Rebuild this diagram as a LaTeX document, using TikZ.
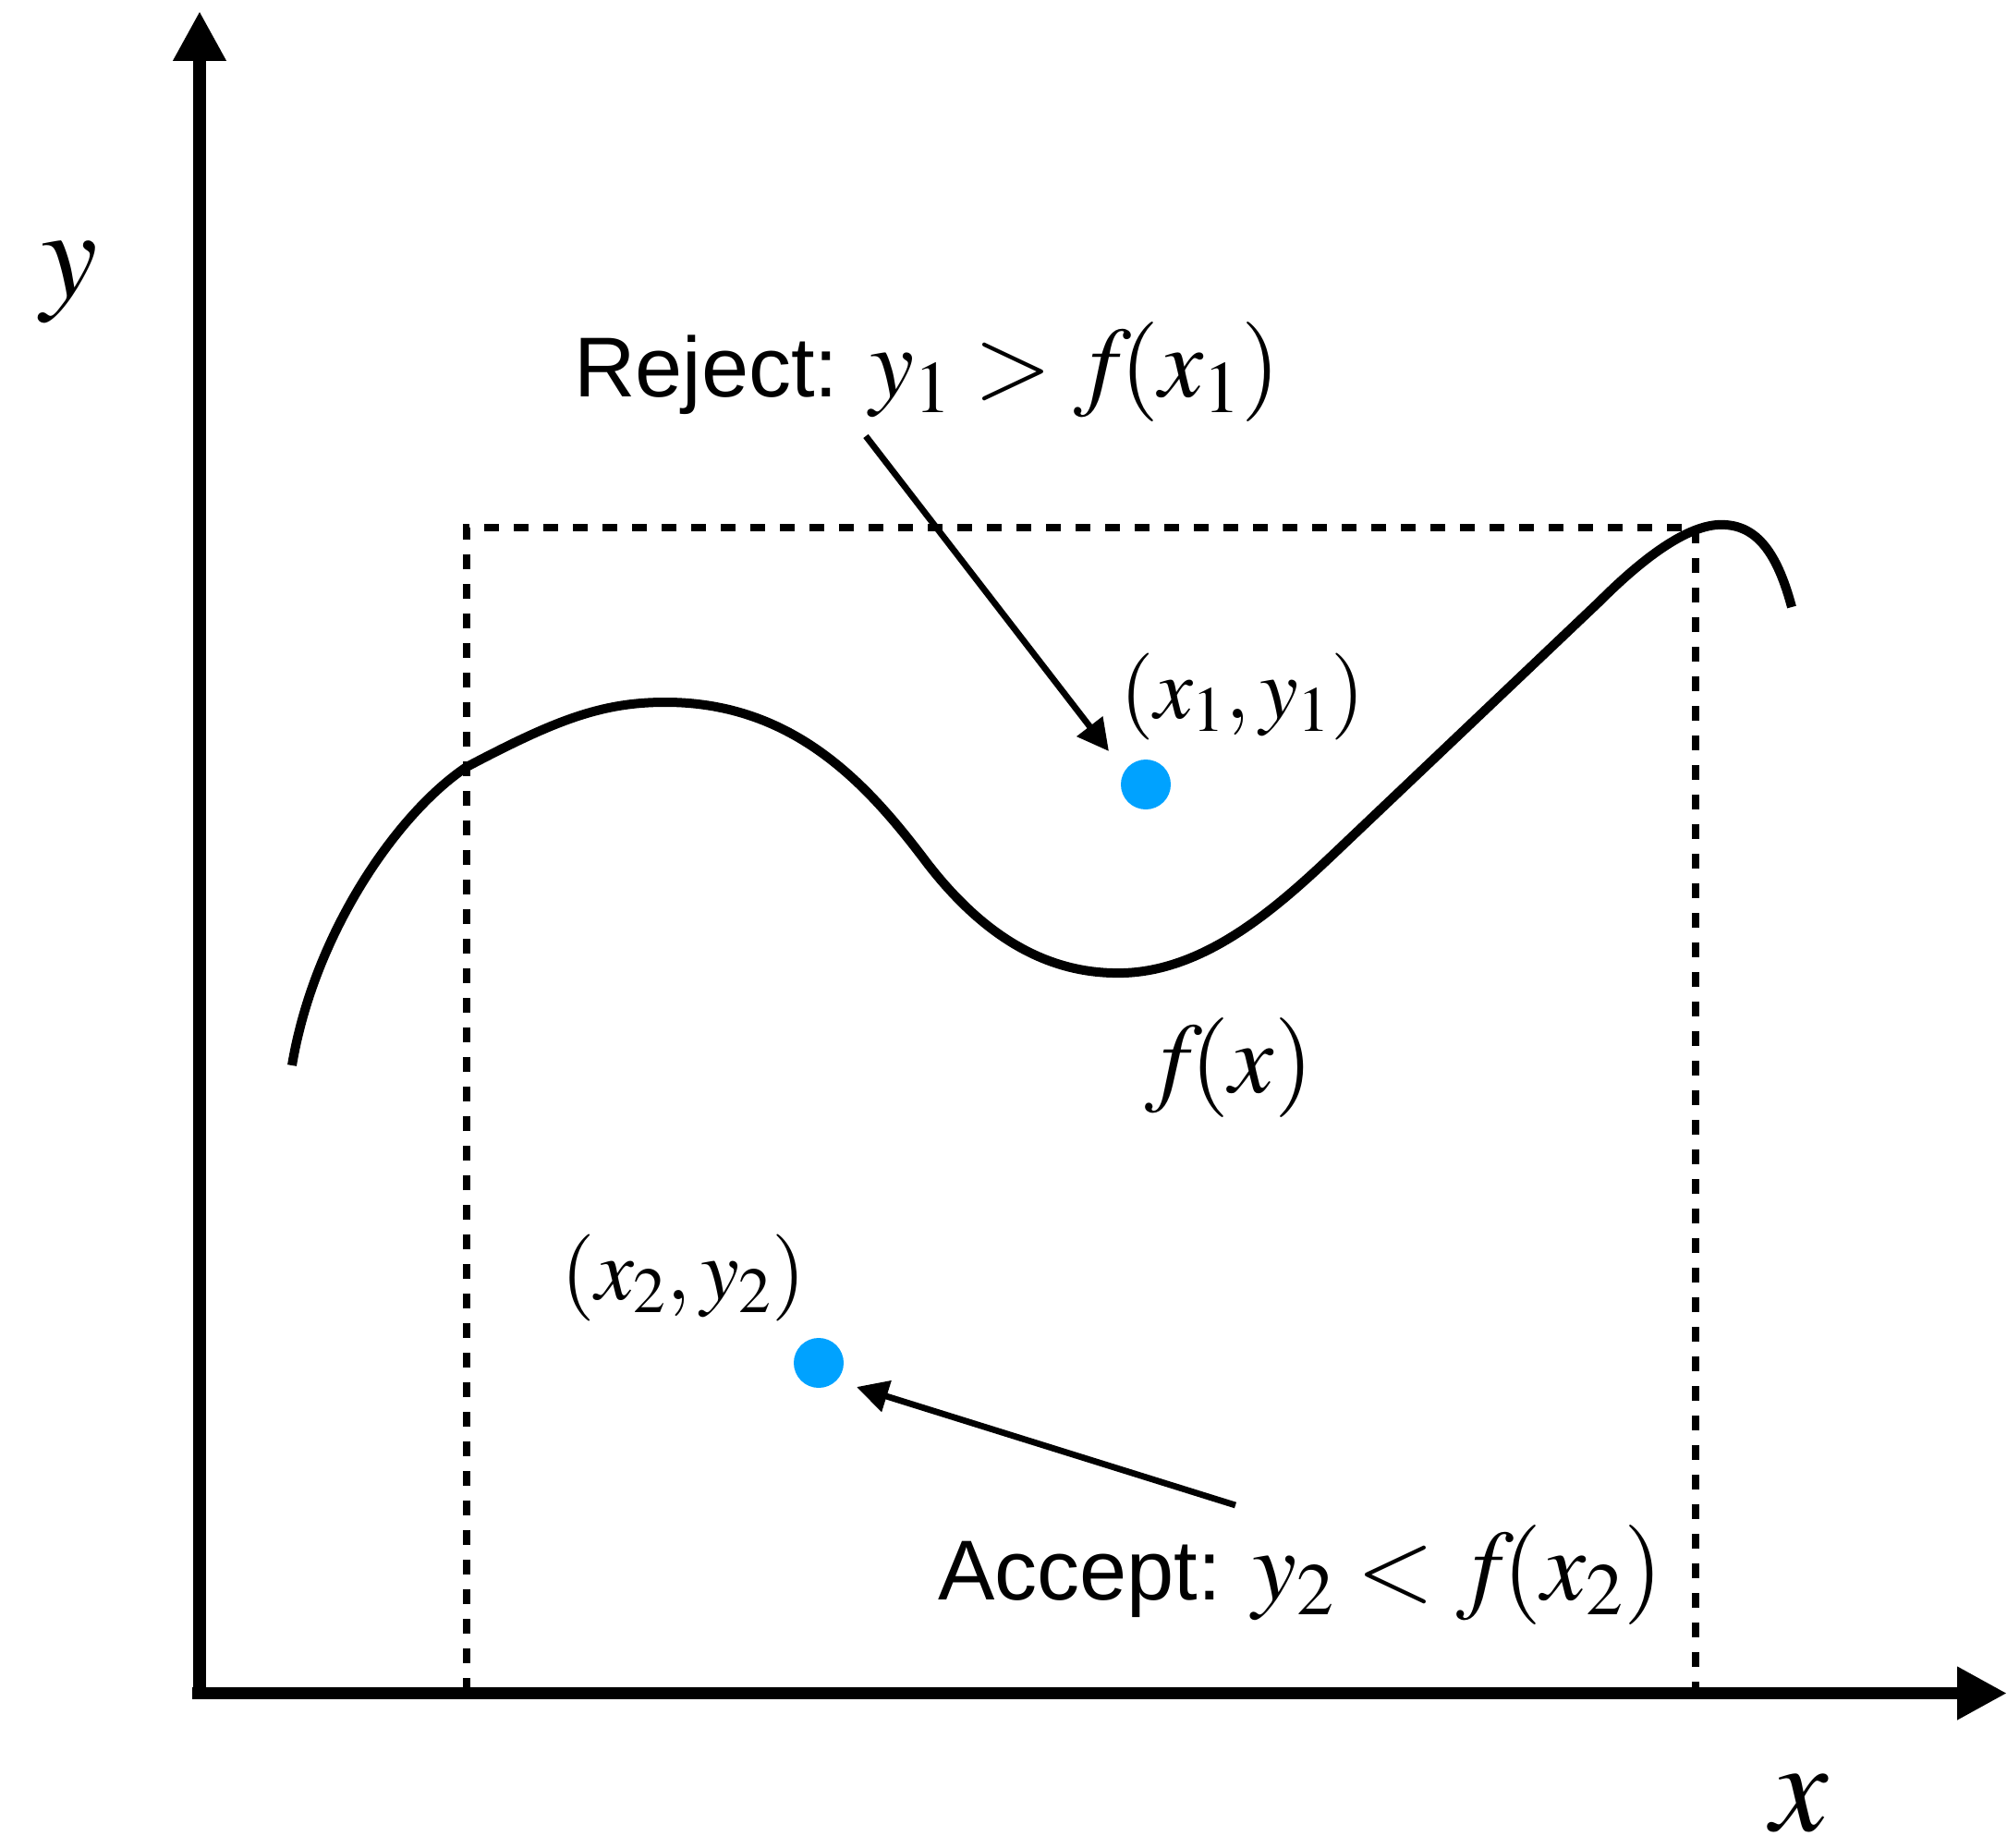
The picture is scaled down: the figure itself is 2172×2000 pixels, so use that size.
\documentclass[tikz,border=0pt]{standalone}
\usepackage{mathptmx}
\usepackage[no-math]{fontspec}
\setmainfont{Liberation Sans}
\usetikzlibrary{arrows.meta}
\definecolor{dotblue}{RGB}{0,162,255}
\tikzset{
  axis/.style={line width=6.75pt,-{Triangle[length=27pt,width=27pt]}},
  curve/.style={line width=5pt},
  boxline/.style={line width=4.2pt,dash pattern=on 8pt off 8pt},
  pointer/.style={line width=3.4pt,-{Triangle[length=17pt,width=17pt]}},
  sample/.style={circle,fill=dotblue,minimum size=27pt,inner sep=0pt},
  lbl/.style={inner sep=0pt,outer sep=0pt},
}
\newcommand{\txt}{\fontsize{46}{50}\selectfont}
\newcommand{\mth}{\fontsize{54}{60}\selectfont}
\newcommand{\pts}{\fontsize{47}{52}\selectfont}
\newcommand{\fn}{f\mkern-2mu}
\begin{document}
\begin{tikzpicture}[x=0.5pt,y=-0.5pt]
\useasboundingbox (0,0) rectangle (2172,2000);
% coordinates
\coordinate (o) at (216,1839);
\coordinate (ytip) at (216,12);
\coordinate (xo) at (208,1832.5);
\coordinate (xtip) at (2172,1832.5);
\coordinate (bl) at (505,1832);
\coordinate (tl) at (505,571);
\coordinate (tr) at (1835,571);
\coordinate (br) at (1835,1832);
% dashed box
\draw[boxline] (bl) -- (tl) -- (tr) -- (br);
% axes
\draw[axis] (o) -- (ytip);
\draw[axis] (xo) -- (xtip);
% curve
\draw[curve] (316,1153) .. controls (340,1010) and (430,880) .. (505,830)
  .. controls (600,780) and (650,760) .. (720,760)
  .. controls (860,760) and (940,850) .. (1004,935)
  .. controls (1070,1020) and (1140,1055) .. (1216,1053)
  .. controls (1310,1050) and (1390,975) .. (1454,914)
  -- (1731,651)
  .. controls (1780,602) and (1830,565) .. (1867,568)
  .. controls (1905,570) and (1925,605) .. (1939,657);
% samples
\node[sample] (s1) at (1240,849) {};
\node[sample] (s2) at (886,1475) {};
% labels
\node[lbl] (ylab) at (75,306) {\fontsize{69}{75}\selectfont$y$};
\node[lbl] (xlab) at (1948,1952) {\fontsize{70}{75}\selectfont$x$};
\node[lbl] (p1) at (1345,754) {\pts$(x_1, y_1)$};
\node[lbl] (p2) at (740,1383) {\pts$(x_2, y_2)$};
\node[lbl] (fx) at (1330,1155) {\mth$\fn(x)$};
\node[lbl,anchor=base west] (rej) at (621,430) {\txt Reject: {\mth$y_1 > \fn(x_1)$}};
\node[lbl,anchor=base west] (acc) at (1015,1731) {\txt Accept: {\mth$y_2 < \fn(x_2)$}};
% pointers
\coordinate (rs) at (937,472);
\coordinate (rtip) at (1200,813);
\coordinate (as) at (1337,1629);
\coordinate (atip) at (927,1501);
\draw[pointer] (rs) -- (rtip);
\draw[pointer] (as) -- (atip);
\end{tikzpicture}
\end{document}
